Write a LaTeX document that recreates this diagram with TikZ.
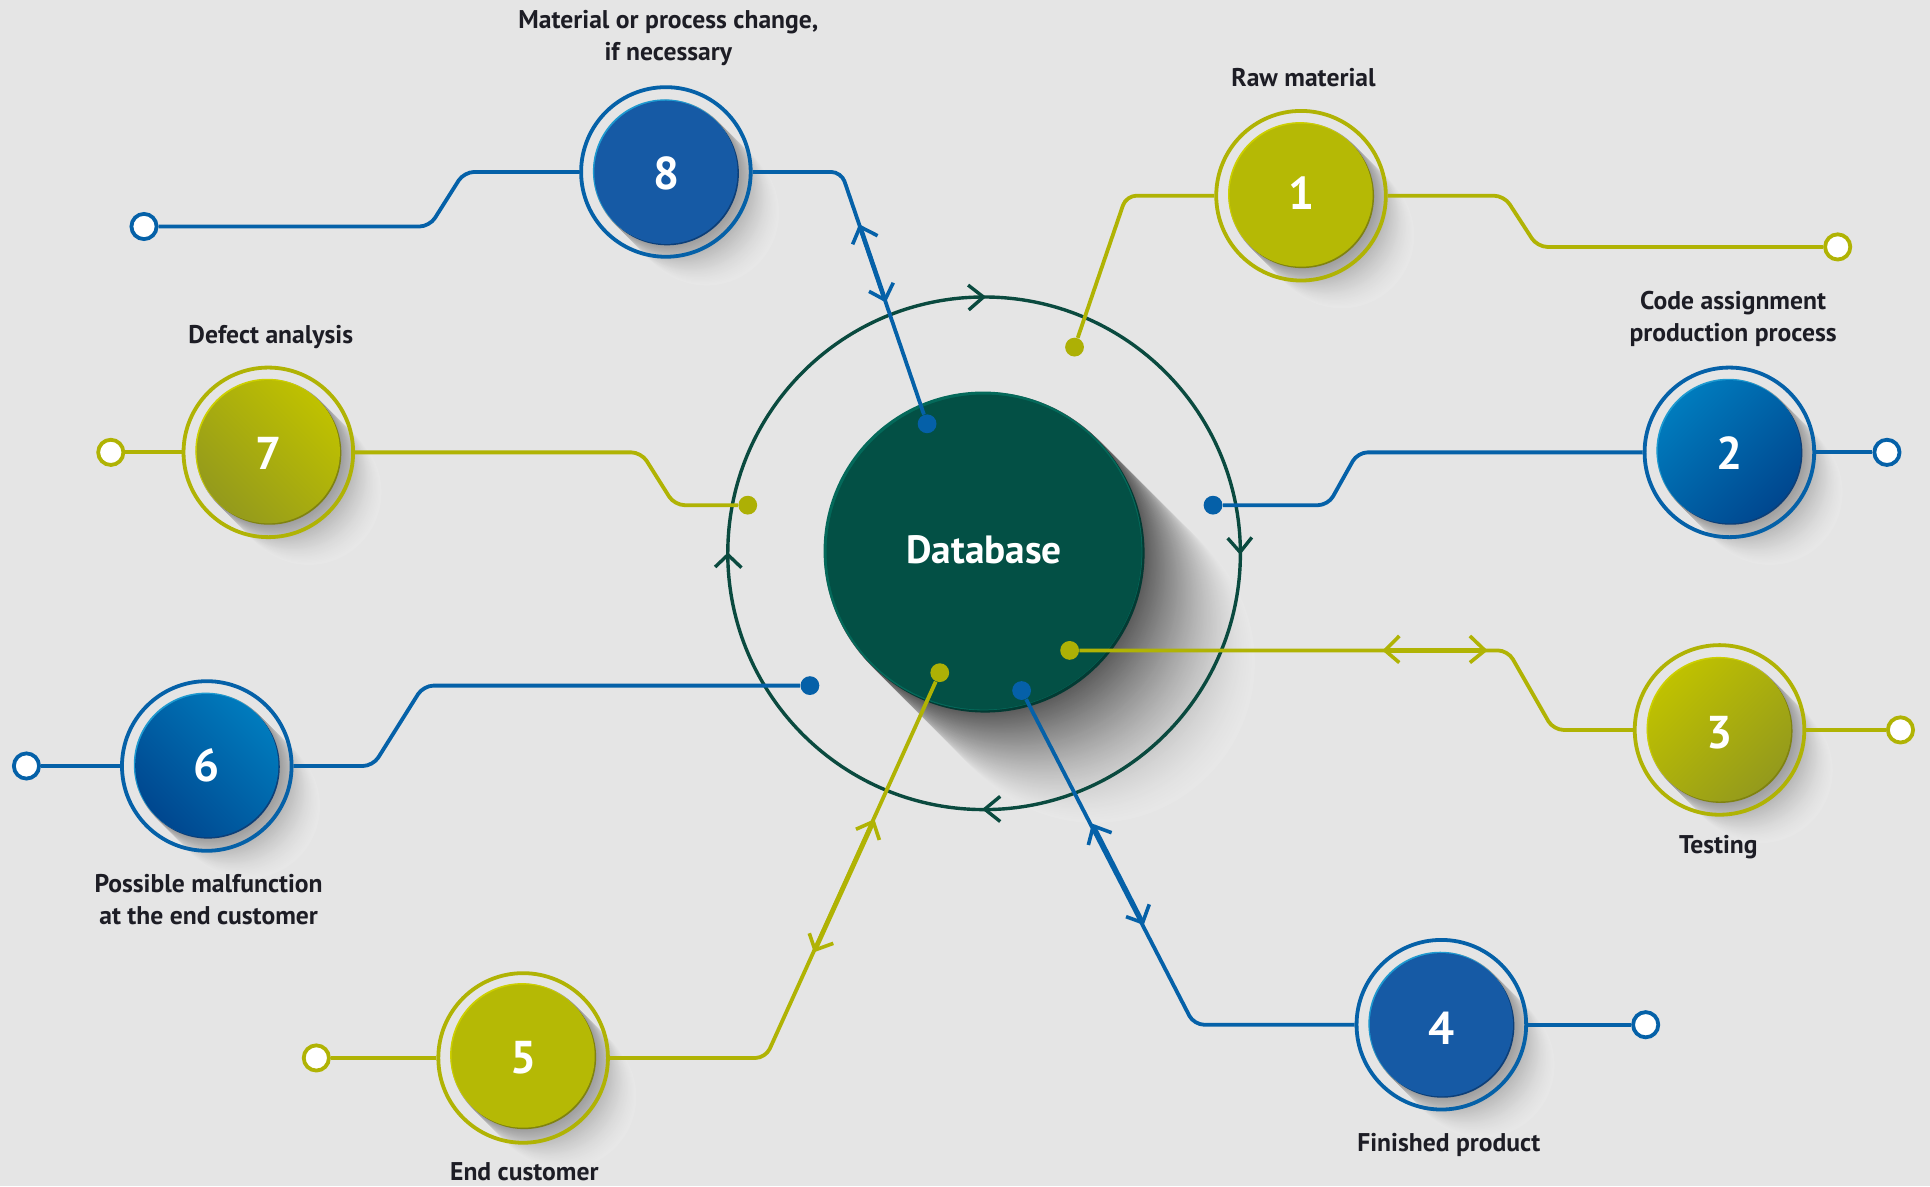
\documentclass[tikz,border=0pt]{standalone}
\usepackage{fontspec}
\setmainfont{PT Sans}
\definecolor{bgc}{HTML}{E5E5E5}
\definecolor{lineY}{HTML}{B0B304}
\definecolor{lineB}{HTML}{0561A8}
\definecolor{dotY}{HTML}{ADB005}
\definecolor{dotB}{HTML}{0560A8}
\definecolor{flatY}{HTML}{B5B905}
\definecolor{flatB}{HTML}{165AA5}
\definecolor{rimdY}{HTML}{7F8210}
\definecolor{rimlY}{HTML}{CDD000}
\definecolor{rimdB}{HTML}{0D3F78}
\definecolor{rimlB}{HTML}{1E9AD0}
\definecolor{gradYa}{HTML}{BFC100}
\definecolor{gradYb}{HTML}{949A1C}
\definecolor{gradBa}{HTML}{007BBD}
\definecolor{gradBb}{HTML}{00478F}
\definecolor{dbmain}{HTML}{035045}
\definecolor{dbring}{HTML}{0A4A3F}
\definecolor{dbdark}{HTML}{033A33}
\definecolor{dblight}{HTML}{04695A}
\definecolor{txtc}{HTML}{1D1D25}
\newcommand{\castshadow}[5]{%
  \foreach \sdi in {#4,...,0}{%
    \pgfmathsetmacro{\sdt}{\sdi/#4}%
    \pgfmathsetmacro{\sdv}{0.905-#5*(1-\sdt)^1.6}%
    \definecolor{shc}{gray}{\sdv}%
    \fill[shc] ({#1+\sdi},{#2+\sdi}) circle[radius=#3];
  }%
}
\newcommand{\bevel}[5]{%
  \fill[#4] ({#1+0.9},{#2+0.9}) circle[radius=#3];
  \fill[#5] ({#1-0.9},{#2-0.9}) circle[radius=#3];
}
\begin{document}
\begin{tikzpicture}[x=0.61543pt,y=-0.61543pt,
  conY/.style={draw=lineY,line width=1.9pt,rounded corners=5pt},
  conB/.style={draw=lineB,line width=1.9pt,rounded corners=5pt},
  chevY/.style={draw=lineY,line width=1.8pt},
  chevB/.style={draw=lineB,line width=1.8pt},
  chevG/.style={draw=dbring,line width=1.7pt},
  ringn/.style={circle,minimum size=84.8pt,inner sep=0pt,line width=1.9pt,fill=none},
  ringY/.style={ringn,draw=lineY},
  ringB/.style={ringn,draw=lineB},
  discn/.style={circle,minimum size=71.6pt,inner sep=0pt},
  numn/.style={text=white,inner sep=0pt,font=\fontsize{23}{23}\selectfont\bfseries},
  endn/.style={circle,minimum size=12.6pt,inner sep=0pt,fill=white,line width=1.9pt},
  dotn/.style={circle,minimum size=9.4pt,inner sep=0pt},
  lab/.style={align=center,text=txtc,inner sep=0pt,font=\fontsize{12.8}{16}\selectfont\bfseries}
]
\useasboundingbox (0,0) rectangle (1568,963.6);
\fill[bgc] (0,0) rectangle (1568,963.6);
% cast shadows
\castshadow{799.5}{448.5}{130}{90}{0.55}
\castshadow{1057}{158.5}{59}{33}{0.3}
\castshadow{1405}{367}{59}{33}{0.3}
\castshadow{1397}{593}{59}{33}{0.3}
\castshadow{1171}{832.5}{59}{33}{0.3}
\castshadow{425}{858}{59}{33}{0.3}
\castshadow{168}{622}{59}{33}{0.3}
\castshadow{218}{367}{59}{33}{0.3}
\castshadow{541}{140}{59}{33}{0.3}
% central ring and disc
\node[circle,draw=dbring,line width=1.7pt,minimum size=256.3pt,inner sep=0pt] (loop) at (799.5,449.5) {};
\bevel{799.5}{448.5}{129.5}{dbdark}{dblight}
\node[circle,fill=dbmain,minimum size=157.5pt,inner sep=0pt] (db) at (799.5,448.5) {};
\node[text=white,inner sep=0pt,font=\fontsize{19.7}{20}\selectfont\bfseries] (dbt) at (799.5,447) {Database};
% outer rings
\node[ringY] (r1) at (1057,159) {};
\node[ringB] (r2) at (1405,367.5) {};
\node[ringY] (r3) at (1397,593) {};
\node[ringB] (r4) at (1171,832.5) {};
\node[ringY] (r5) at (425,859.5) {};
\node[ringB] (r6) at (168,622.3) {};
\node[ringY] (r7) at (218,367.5) {};
\node[ringB] (r8) at (541,139.7) {};
% numbered discs
\bevel{1057}{158.5}{58.4}{rimdY}{rimlY}
\node[discn,fill=flatY] (n1) at (1057,158.5) {};
\node[numn] (k1) at (1057,156.5) {1};
\bevel{1405}{367}{58.4}{rimdB}{rimlB}
\node[discn,shade,top color=gradBa,bottom color=gradBb,shading angle=45] (n2) at (1405,367) {};
\node[numn] (k2) at (1405,368) {2};
\bevel{1397}{593}{58.4}{rimdY}{rimlY}
\node[discn,shade,top color=gradYa,bottom color=gradYb,shading angle=45] (n3) at (1397,593) {};
\node[numn] (k3) at (1397,595) {3};
\bevel{1171}{832.5}{58.4}{rimdB}{rimlB}
\node[discn,fill=flatB] (n4) at (1171,832.5) {};
\node[numn] (k4) at (1171.5,835) {4};
\bevel{425}{858}{58.4}{rimdY}{rimlY}
\node[discn,fill=flatY] (n5) at (425,858) {};
\node[numn] (k5) at (425.5,859) {5};
\bevel{168}{622}{58.4}{rimdB}{rimlB}
\node[discn,shade,top color=gradBa,bottom color=gradBb,shading angle=-45] (n6) at (168,622) {};
\node[numn] (k6) at (168,622) {6};
\bevel{218}{367}{58.4}{rimdY}{rimlY}
\node[discn,shade,top color=gradYa,bottom color=gradYb,shading angle=-45] (n7) at (218,367) {};
\node[numn] (k7) at (218,368) {7};
\bevel{541}{140}{58.4}{rimdB}{rimlB}
\node[discn,fill=flatB] (n8) at (541,140) {};
\node[numn] (k8) at (541.5,141) {8};
% inner dots
\node[dotn,fill=dotY] (d1) at (873,282) {};
\node[dotn,fill=dotB] (d2) at (985.5,410.4) {};
\node[dotn,fill=dotY] (d3) at (869,528.4) {};
\node[dotn,fill=dotB] (d4) at (830,561) {};
\node[dotn,fill=dotY] (d5) at (763.5,546.5) {};
\node[dotn,fill=dotB] (d6) at (658,557) {};
\node[dotn,fill=dotY] (d7) at (607.5,410.4) {};
\node[dotn,fill=dotB] (d8) at (753.2,344.3) {};
% outer ends
\node[endn,draw=lineY] (e1) at (1493,200.6) {};
\node[endn,draw=lineB] (e2) at (1533,367.5) {};
\node[endn,draw=lineY] (e3) at (1544,593) {};
\node[endn,draw=lineB] (e4) at (1337,832.5) {};
\node[endn,draw=lineY] (e5) at (257,859.5) {};
\node[endn,draw=lineB] (e6) at (21.5,622.3) {};
\node[endn,draw=lineY] (e7) at (90,367.5) {};
\node[endn,draw=lineB] (e8) at (117,184) {};
% connectors
\draw[conY] (d1) -- (915,159) -- (r1);
\draw[conY] (r1) -- (1222,159) -- (1249,200.6) -- (e1);
\draw[conB] (d2) -- (1079,410.4) -- (1103,367.5) -- (r2);
\draw[conB] (r2) -- (e2);
\draw[conY] (d3) -- (1225,528.4) -- (1262,593) -- (r3);
\draw[conY] (r3) -- (e3);
\draw[conB] (d4) -- (970,832.5) -- (r4);
\draw[conB] (r4) -- (e4);
\draw[conY] (d5) -- (622,859.5) -- (r5);
\draw[conY] (r5) -- (e5);
\draw[conB] (d6) -- (344,557) -- (303,622.3) -- (r6);
\draw[conB] (r6) -- (e6);
\draw[conY] (d7) -- (548,410.4) -- (521,367.5) -- (r7);
\draw[conY] (r7) -- (e7);
\draw[conB] (d8) -- (683.5,139.7) -- (r8);
\draw[conB] (r8) -- (377,139.7) -- (349,184) -- (e8);
% double-headed sections
\draw[draw=lineB,line width=2.3pt] (698.7,184.2) -- (719,243.7);
\draw[draw=lineY,line width=2.3pt] (709.5,667.5) -- (662.1,771.8);
\draw[draw=lineB,line width=2.3pt] (888.2,671) -- (928.3,749.6);
\draw[draw=lineY,line width=2.3pt] (1125.2,528.4) -- (1206.4,528.4);
% chevrons on connectors
\draw[chevB] (692.7,198.5) -- (698.7,184.2) -- (713,191.5);
\draw[chevB] (706,236.7) -- (719,243.7) -- (725.7,229.7);
\draw[chevY] (695.4,673.7) -- (709.5,667.5) -- (714.4,682.4);
\draw[chevY] (657.5,758.2) -- (662.1,771.8) -- (677,766.4);
\draw[chevB] (884.2,686.5) -- (888.2,671) -- (903.1,676.5);
\draw[chevB] (914.8,744.7) -- (928.3,749.6) -- (933.7,734.7);
\draw[chevY] (1136.8,516.7) -- (1125.2,528.4) -- (1136.8,538.3);
\draw[chevY] (1194.2,516.7) -- (1206.4,528.4) -- (1194.2,538.3);
% chevrons on the ring
\draw[chevG] (786.5,231.6) -- (799,241.3) -- (787,251.8);
\draw[chevG] (997.4,437.2) -- (1007.5,448.6) -- (1017,436.6);
\draw[chevG] (581,460.6) -- (591.4,450.7) -- (602.4,461.2);
\draw[chevG] (812.6,647) -- (800,657.4) -- (812.6,667.4);
% labels
\node[lab] (t8) at (543,31) {Material or process change,\\if necessary};
\node[lab] (t1) at (1059,63) {Raw material};
\node[lab] (t2) at (1408,259) {Code assignment\\production process};
\node[lab] (t3) at (1396,688) {Testing};
\node[lab] (t4) at (1177,930) {Finished product};
\node[lab] (t5) at (426,952) {End customer};
\node[lab] (t6) at (169.5,731) {Possible malfunction\\at the end customer};
\node[lab] (t7) at (220,274) {Defect analysis};
\end{tikzpicture}
\end{document}
